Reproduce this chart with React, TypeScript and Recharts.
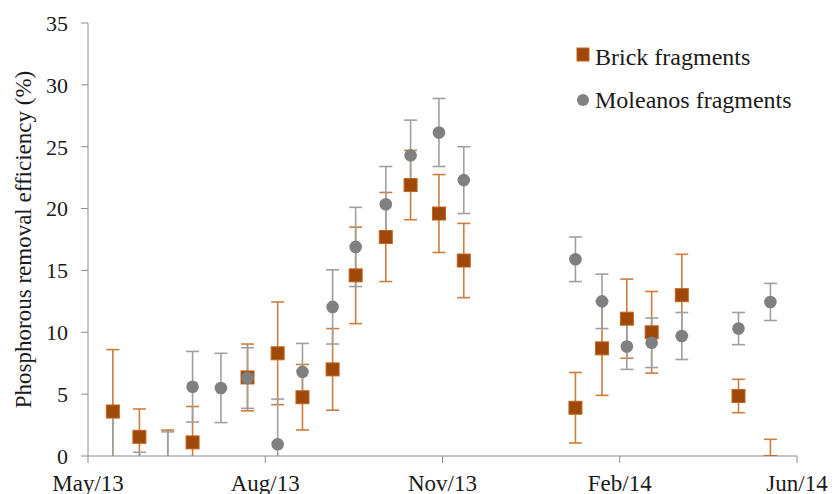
import React from 'react';
import { ScatterChart, Scatter, XAxis, YAxis, ErrorBar, Legend } from 'recharts';

const axisStart = '2013-05-01';
const sampleDates = [
  '2013-05-15', '2013-05-30', '2013-06-15', '2013-06-29', '2013-07-15', '2013-07-30',
  '2013-08-16', '2013-08-30', '2013-09-16', '2013-09-29', '2013-10-16', '2013-10-30',
  '2013-11-15', '2013-11-29', '2014-01-31', '2014-02-15', '2014-03-01', '2014-03-15',
  '2014-04-01', '2014-05-03', '2014-05-21',
];
const brickValues = [3.6, 1.55, -1.0, 1.1, null, 6.35, 8.3, 4.75, 7.0, 14.6, 17.7, 21.9, 19.6, 15.8, 3.9, 8.7, 11.1, 10.0, 13.0, 4.85, -0.5];
const brickErrors = [5.0, 2.25, 3.1, 2.9, null, 2.7, 4.15, 2.65, 3.3, 3.9, 3.6, 2.8, 3.15, 3.0, 2.85, 3.8, 3.2, 3.3, 3.3, 1.35, 1.85];
const moleanosValues = [-0.6, -0.8, -1.0, 5.6, 5.5, 6.3, 0.95, 6.8, 12.05, 16.9, 20.35, 24.3, 26.15, 22.3, 15.9, 12.5, 8.85, 9.15, 9.7, 10.3, 12.45];
const moleanosErrors = [3.7, 1.1, 2.95, 2.85, 2.8, 2.45, 3.65, 2.3, 3.0, 3.2, 3.05, 2.85, 2.75, 2.7, 1.8, 2.2, 1.85, 2.0, 1.9, 1.3, 1.5];
const tickDates = ['2013-05-01', '2013-08-09', '2013-11-17', '2014-02-25', '2014-06-05'];
const tickLabels = ['May/13', 'Aug/13', 'Nov/13', 'Feb/14', 'Jun/14'];
const yTicks = [0, 5, 10, 15, 20, 25, 30, 35];
const seriesNames = ['Brick fragments', 'Moleanos fragments'];

const dayOf = (d: string) => Math.round((Date.parse(d) - Date.parse(axisStart)) / 86400000);
const tickDays = tickDates.map(dayOf);

const build = (vals: (number | null)[], errs: (number | null)[]) =>
  sampleDates
    .map((d, i) => ({ x: dayOf(d), y: vals[i], err: errs[i] }))
    .filter((p) => p.y !== null);

const brickData = build(brickValues, brickErrors);
const moleanosData = build(moleanosValues, moleanosErrors);

const BRICK_FILL = '#9E480A';
const BRICK_EDGE = '#C0651E';
const BRICK_ERR = '#CD7D3C';
const MOL_FILL = '#808080';
const MOL_ERR = '#A0A0A0';
const AXIS = '#8C8C8C';
const FONT = 'Liberation Serif, Tinos, DejaVu Serif, serif';

const SquareShape = (props: any) => {
  const { cx, cy } = props;
  if (cx == null || cy == null) return null;
  return <rect x={cx - 6.5} y={cy - 6.5} width={13} height={13} fill={BRICK_FILL} stroke={BRICK_EDGE} strokeWidth={1} />;
};

const CircleShape = (props: any) => {
  const { cx, cy } = props;
  if (cx == null || cy == null) return null;
  return <circle cx={cx} cy={cy} r={6.3} fill={MOL_FILL} />;
};

const LegendContent = () => (
  <svg width={260} height={95} style={{ display: 'block' }}>
    <rect x={7} y={18} width={12} height={13} fill={BRICK_FILL} stroke={BRICK_EDGE} strokeWidth={1} />
    <text x={25} y={35} style={{ fontFamily: FONT, fontSize: 24 }} fill="#1a1a1a">{seriesNames[0]}</text>
    <circle cx={13} cy={70} r={6} fill={MOL_FILL} />
    <text x={25} y={78} style={{ fontFamily: FONT, fontSize: 24 }} fill="#1a1a1a">{seriesNames[1]}</text>
  </svg>
);

export default function App() {
  return (
    <div style={{ position: 'absolute', left: 0, top: 0, width: 832, height: 494, background: '#fff', fontFamily: FONT }}>
      <svg width={0} height={0} style={{ position: 'absolute' }}>
        <defs>
          <clipPath id="plotAreaClip" clipPathUnits="userSpaceOnUse">
            <rect x={0} y={0} width={832} height={456} />
          </clipPath>
        </defs>
      </svg>
      <ScatterChart width={832} height={494} margin={{ top: 23, right: 35, left: 0, bottom: 0 }} style={{ fontFamily: FONT }}>
        <XAxis
          type="number"
          dataKey="x"
          domain={[0, 400]}
          ticks={tickDays}
          interval={0}
          allowDataOverflow
          tickFormatter={(v: number) => tickLabels[tickDays.indexOf(v)] ?? ''}
          height={38}
          tickSize={7}
          tickMargin={12}
          stroke={AXIS}
          tick={{ fill: '#1a1a1a', fontSize: 23, style: { fontFamily: FONT } }}
        />
        <YAxis
          type="number"
          dataKey="y"
          domain={[0, 35]}
          ticks={yTicks}
          interval={0}
          allowDataOverflow
          width={88}
          tickSize={7}
          tickMargin={13}
          stroke={AXIS}
          tick={{ fill: '#1a1a1a', fontSize: 22, style: { fontFamily: FONT } }}
          label={{
            value: 'Phosphorous removal efficiency (%)',
            angle: -90,
            position: 'center',
            dx: -21,
            style: { fontSize: 23, fontFamily: FONT, fill: '#1a1a1a', textAnchor: 'middle' },
          }}
        />
        <Legend
          layout="vertical"
          align="center"
          verticalAlign="middle"
          wrapperStyle={{ left: 570, top: 30, width: 260, height: 95 }}
          content={() => <LegendContent />}
        />
        <Scatter name={seriesNames[0]} data={brickData} isAnimationActive={false} shape={<SquareShape />}>
          <ErrorBar dataKey="err" direction="y" width={6.5} stroke={BRICK_ERR} strokeWidth={1.6} clipPath="url(#plotAreaClip)" />
        </Scatter>
        <Scatter name={seriesNames[1]} data={moleanosData} isAnimationActive={false} shape={<CircleShape />}>
          <ErrorBar dataKey="err" direction="y" width={6.5} stroke={MOL_ERR} strokeWidth={1.6} clipPath="url(#plotAreaClip)" />
        </Scatter>
      </ScatterChart>
    </div>
  );
}
